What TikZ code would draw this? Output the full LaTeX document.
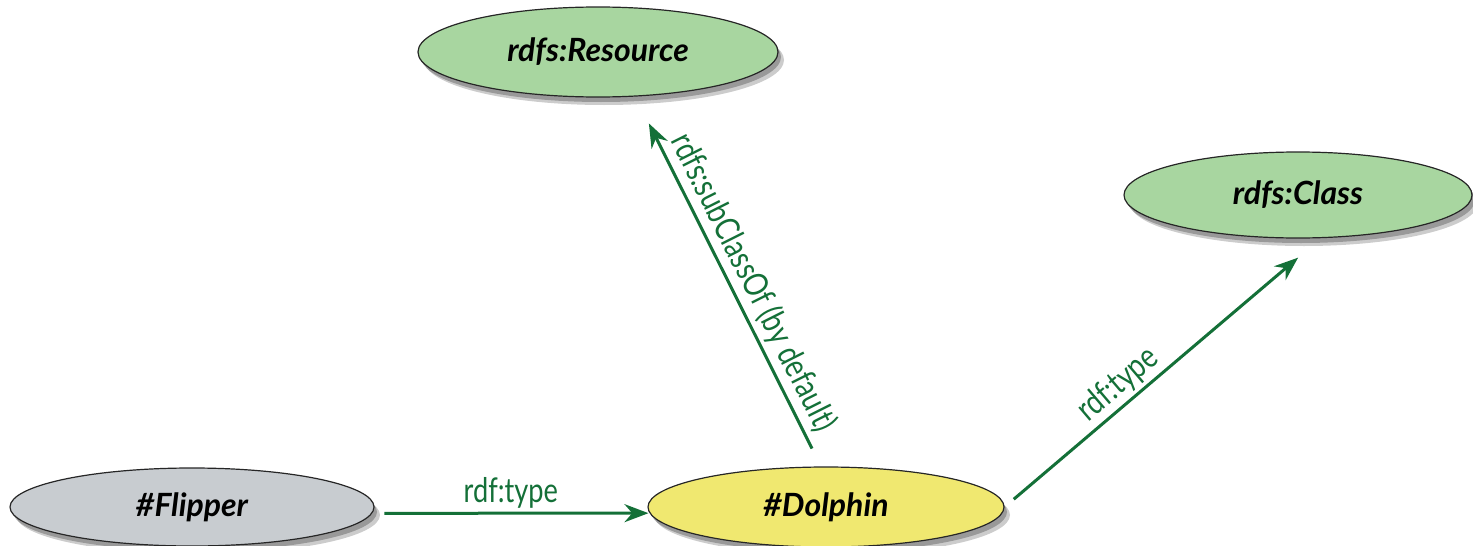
\documentclass[tikz,border=0pt]{standalone}
\usepackage{fontspec}
\setmainfont{Lato}
\newfontfamily\lblfont[FakeStretch=0.8]{Lato}
\usetikzlibrary{shapes.geometric,arrows.meta,shadows}
\definecolor{nodegreen}{RGB}{168,214,160}
\definecolor{nodegray}{RGB}{200,204,208}
\definecolor{nodeyellow}{RGB}{240,232,112}
\definecolor{edgegreen}{RGB}{20,112,56}
\begin{document}
\begin{tikzpicture}[x=1pt,y=-1pt,
  ell/.style={ellipse, draw=black!85, line width=1.2pt, inner sep=0pt,
    font=\fontsize{32}{34}\selectfont\bfseries\itshape,
    drop shadow={shadow xshift=3pt,shadow yshift=-5pt,opacity=.25,fill=black},
    drop shadow={shadow xshift=6pt,shadow yshift=-8pt,opacity=.2,fill=black}},
  arr/.style={draw=edgegreen, line width=3pt, -{Stealth[length=24pt,width=18pt]}},
  lbl/.style={font=\lblfont\fontsize{34}{36}\selectfont, text=edgegreen, inner sep=2pt}
]
\useasboundingbox (0,0) rectangle (1473,546);
\node[ell, fill=nodegreen, minimum width=360pt, minimum height=90pt] (resource) at (598,52) {rdfs:Resource};
\node[ell, fill=nodegreen, minimum width=348pt, minimum height=86pt] (class) at (1298,195) {rdfs:Class};
\node[ell, fill=nodegray, minimum width=364pt, minimum height=78pt] (flipper) at (192,507) {\#Flipper};
\node[ell, fill=nodeyellow, minimum width=356pt, minimum height=80pt] (dolphin) at (826,507) {\#Dolphin};

\draw[arr, shorten <=12pt, shorten >=1pt] (flipper.-2) -- node[lbl, above=1pt] {rdf:type} (dolphin.182);
\draw[arr, shorten <=20pt, shorten >=30pt] (dolphin.97) -- node[lbl, sloped, above=2pt, pos=0.47] {rdfs:subClassOf (by default)} (resource.-50);
\draw[arr, shorten <=12pt, shorten >=30pt] (dolphin.east) -- node[lbl, sloped, above=1pt, pos=0.4] {rdf:type} (class.-62);
\end{tikzpicture}
\end{document}
